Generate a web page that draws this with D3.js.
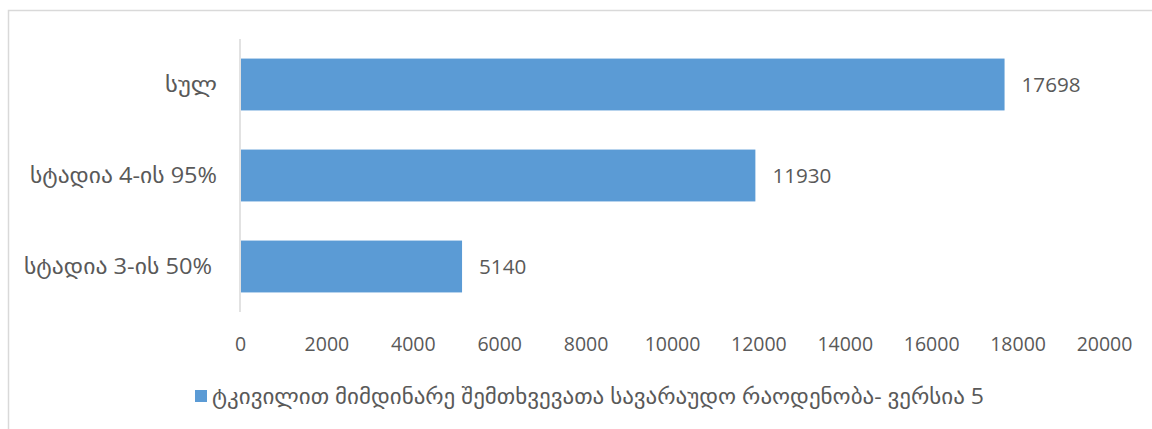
<!DOCTYPE html>
<html>
<head>
<meta charset="utf-8">
<script src="https://cdn.jsdelivr.net/npm/d3@7"></script>
<style>
  html, body { margin: 0; padding: 0; background: #fff; }
  svg text { font-family: "Open Sans", "DejaVu Sans", sans-serif; fill: #595959; }
</style>
</head>
<body>
<svg id="chart" width="1152" height="429"></svg>
<script>
// Estimated ongoing cases by stage (top to bottom)
const categories = ["სულ", "სტადია 4-ის 95%", "სტადია 3-ის 50%"];
const values = [17698, 11930, 5140];
const tickValues = [0, 2000, 4000, 6000, 8000, 10000, 12000, 14000, 16000, 18000, 20000];
const seriesName = "ტკივილით მიმდინარე შემთხვევათა სავარაუდო რაოდენობა- ვერსია 5";

// Rendered widths for the Georgian labels (wide serif-like Georgian face)
const catWidths = [52, 187, 188];
const legendWidth = 772;

const svg = d3.select("#chart");
const barColor = "#5B9BD5";

// Outer chart frame
svg.append("rect")
  .attr("x", 8.5).attr("y", 10.5)
  .attr("width", 1160).attr("height", 440)
  .attr("fill", "none").attr("stroke", "#d9d9d9").attr("stroke-width", 1.5);

const x = d3.scaleLinear().domain([0, 20000]).range([240, 1104]);
const y = d3.scaleBand().domain(categories).range([39, 312]).paddingInner(0.43).paddingOuter(0.215);

// Vertical category axis line
svg.append("line")
  .attr("x1", x(0)).attr("x2", x(0))
  .attr("y1", 39).attr("y2", 312)
  .attr("stroke", "#d9d9d9").attr("stroke-width", 1.5);

// Bars
svg.selectAll("rect.bar")
  .data(values)
  .join("rect")
  .attr("class", "bar")
  .attr("x", x(0) + 1)
  .attr("y", (d, i) => y(categories[i]))
  .attr("width", d => x(d) - x(0) - 1)
  .attr("height", y.bandwidth())
  .attr("fill", barColor);

// Value labels (about 12px per digit)
svg.selectAll("text.val")
  .data(values)
  .join("text")
  .attr("class", "val")
  .attr("x", d => x(d) + 17)
  .attr("y", (d, i) => y(categories[i]) + y.bandwidth() / 2)
  .attr("dy", "0.35em")
  .attr("font-size", 20)
  .attr("textLength", d => String(d).length * 11.8)
  .attr("lengthAdjust", "spacingAndGlyphs")
  .text(d => d);

// Category labels
svg.selectAll("text.cat")
  .data(categories)
  .join("text")
  .attr("class", "cat")
  .attr("x", (d, i) => i === 2 ? 212 : 217)
  .attr("y", d => y(d) + y.bandwidth() / 2)
  .attr("dy", "0.35em")
  .attr("text-anchor", "end")
  .attr("font-size", 21)
  .attr("textLength", (d, i) => catWidths[i])
  .attr("lengthAdjust", "spacingAndGlyphs")
  .text(d => d);

// Value axis (labels only)
const xAxis = d3.axisBottom(x).tickValues(tickValues).tickSize(0).tickPadding(0).tickFormat(d3.format("d"));
const gx = svg.append("g").attr("transform", "translate(0,334)").call(xAxis);
gx.select(".domain").remove();
gx.selectAll("text")
  .attr("font-size", 19.5)
  .attr("dy", "0.85em")
  .style("font-family", "\"Open Sans\", \"DejaVu Sans\", sans-serif")
  .attr("fill", "#595959");

// Legend
const legend = svg.append("g");
legend.append("rect")
  .attr("x", 195).attr("y", 390)
  .attr("width", 12).attr("height", 12)
  .attr("fill", barColor);
legend.append("text")
  .attr("x", 212).attr("y", 397)
  .attr("dy", "0.35em")
  .attr("font-size", 21)
  .attr("textLength", legendWidth)
  .attr("lengthAdjust", "spacingAndGlyphs")
  .text(seriesName);
</script>
</body>
</html>
